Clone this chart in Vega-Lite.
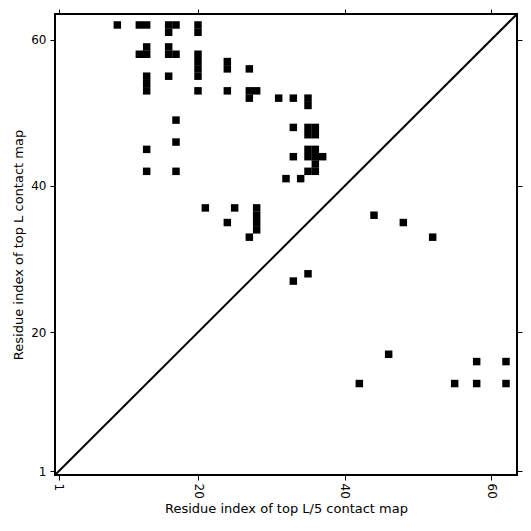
{
  "$schema": "https://vega.github.io/schema/vega-lite/v6.json",
  "width": 462,
  "height": 461,
  "autosize": "none",
  "padding": {"left": 55, "top": 14, "right": 14, "bottom": 56},
  "background": "white",
  "config": {
    "view": {"stroke": "black", "strokeWidth": 2},
    "font": "DejaVu Sans",
    "axis": {
      "grid": false,
      "domain": false,
      "tickColor": "black",
      "tickSize": 5,
      "tickWidth": 1,
      "labelColor": "black",
      "labelFontSize": 12,
      "labelFont": "DejaVu Sans",
      "titleFont": "DejaVu Sans",
      "titleFontSize": 13,
      "titleFontWeight": "normal",
      "titleColor": "black"
    }
  },
  "datasets": {
    "cells": [
      {"i": 9, "j": 62}, {"i": 12, "j": 62}, {"i": 13, "j": 62}, {"i": 16, "j": 62}, {"i": 17, "j": 62}, {"i": 16, "j": 61}, {"i": 20, "j": 62}, {"i": 20, "j": 61},
      {"i": 12, "j": 58}, {"i": 13, "j": 58}, {"i": 13, "j": 59}, {"i": 16, "j": 58}, {"i": 17, "j": 58}, {"i": 16, "j": 59},
      {"i": 20, "j": 58}, {"i": 20, "j": 57}, {"i": 20, "j": 56}, {"i": 20, "j": 55},
      {"i": 13, "j": 55}, {"i": 13, "j": 54}, {"i": 13, "j": 53}, {"i": 16, "j": 55}, {"i": 20, "j": 53},
      {"i": 24, "j": 57}, {"i": 24, "j": 56}, {"i": 27, "j": 56}, {"i": 24, "j": 53}, {"i": 27, "j": 53}, {"i": 28, "j": 53}, {"i": 27, "j": 52},
      {"i": 31, "j": 52}, {"i": 33, "j": 52}, {"i": 35, "j": 52}, {"i": 35, "j": 51},
      {"i": 17, "j": 49}, {"i": 33, "j": 48}, {"i": 35, "j": 48}, {"i": 36, "j": 48}, {"i": 35, "j": 47}, {"i": 36, "j": 47},
      {"i": 17, "j": 46}, {"i": 13, "j": 45},
      {"i": 33, "j": 44}, {"i": 35, "j": 45}, {"i": 36, "j": 45}, {"i": 35, "j": 44}, {"i": 36, "j": 44}, {"i": 37, "j": 44}, {"i": 36, "j": 43}, {"i": 35, "j": 42}, {"i": 36, "j": 42},
      {"i": 13, "j": 42}, {"i": 17, "j": 42}, {"i": 32, "j": 41}, {"i": 34, "j": 41},
      {"i": 21, "j": 37}, {"i": 25, "j": 37}, {"i": 28, "j": 37}, {"i": 28, "j": 36}, {"i": 28, "j": 35}, {"i": 28, "j": 34}, {"i": 24, "j": 35}, {"i": 27, "j": 33},
      {"i": 33, "j": 27}, {"i": 35, "j": 28},
      {"i": 44, "j": 36}, {"i": 48, "j": 35}, {"i": 52, "j": 33},
      {"i": 46, "j": 17}, {"i": 58, "j": 16}, {"i": 62, "j": 16},
      {"i": 42, "j": 13}, {"i": 55, "j": 13}, {"i": 58, "j": 13}, {"i": 62, "j": 13}
    ],
    "diag": [
      {"i": 0.5, "j": 0.5},
      {"i": 63.5, "j": 63.5}
    ]
  },
  "layer": [
    {
      "data": {"name": "diag"},
      "mark": {"type": "line", "color": "black", "strokeWidth": 2},
      "encoding": {
        "x": {
          "field": "i", "type": "quantitative",
          "scale": {"domain": [0.5, 63.5], "nice": false, "zero": false},
          "axis": {"orient": "bottom", "values": [1, 20, 40, 60], "labelAngle": 90, "labelPadding": 3, "title": "Residue index of top L/5 contact map", "titlePadding": 4}
        },
        "y": {
          "field": "j", "type": "quantitative",
          "scale": {"domain": [0.5, 63.5], "nice": false, "zero": false},
          "axis": {"orient": "left", "values": [1, 20, 40, 60], "labelPadding": 4, "title": "Residue index of top L contact map", "titlePadding": 5}
        }
      }
    },
    {
      "data": {"name": "cells"},
      "mark": {"type": "square", "size": 56, "color": "black", "opacity": 1, "filled": true, "strokeWidth": 0},
      "encoding": {
        "x": {
          "field": "i", "type": "quantitative",
          "scale": {"domain": [0.5, 63.5], "nice": false, "zero": false},
          "axis": {"orient": "top", "values": [1, 20, 40, 60], "labels": false, "title": null}
        },
        "y": {
          "field": "j", "type": "quantitative",
          "scale": {"domain": [0.5, 63.5], "nice": false, "zero": false},
          "axis": {"orient": "right", "values": [1, 20, 40, 60], "labels": false, "title": null}
        }
      }
    }
  ],
  "resolve": {"axis": {"x": "independent", "y": "independent"}}
}
